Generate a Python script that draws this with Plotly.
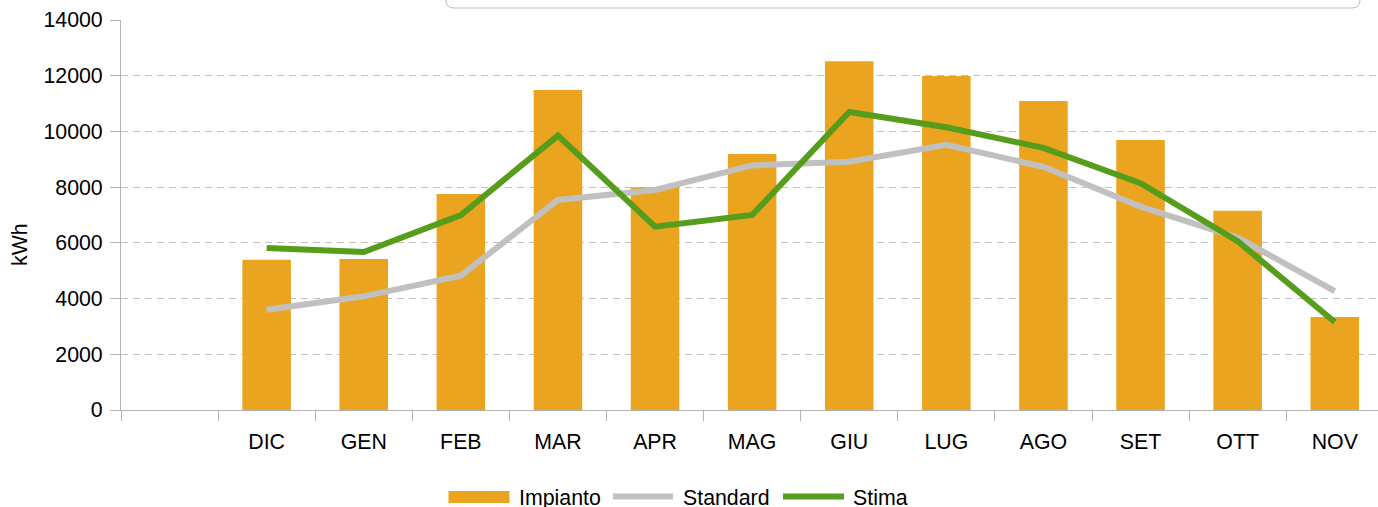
import plotly.graph_objects as go

categories = [" ", "DIC", "GEN", "FEB", "MAR", "APR", "MAG", "GIU", "LUG", "AGO", "SET", "OTT", "NOV"]
months = categories[1:]
impianto = [None, 5390, 5420, 7750, 11490, 8000, 9190, 12520, 11990, 11090, 9690, 7150, 3340]
standard = [3600, 4080, 4820, 7540, 7900, 8780, 8910, 9520, 8730, 7300, 6190, 4270]
stima = [5815, 5670, 7000, 9850, 6580, 7000, 10700, 10150, 9410, 8140, 6060, 3160]
y_ticks = [0, 2000, 4000, 6000, 8000, 10000, 12000, 14000]
y_tick_text = [str(v) for v in y_ticks]
series_names = ["Impianto", "Standard", "Stima"]
series_colors = ["#EBA41F", "#C0C0C0", "#579D1C"]

FONT = "Liberation Sans, Arial, sans-serif"
FS = 21.33
GRID = "#C0C0C0"
AXIS = "#B3B3B3"

fig = go.Figure()
fig.add_trace(go.Bar(x=categories, y=impianto, name=series_names[0], marker_color=series_colors[0],
                     marker_line_width=0, width=0.5, showlegend=False))
fig.add_trace(go.Scatter(x=months, y=standard, name=series_names[1], mode="lines",
                         line=dict(color=series_colors[1], width=6), showlegend=False))
fig.add_trace(go.Scatter(x=months, y=stima, name=series_names[2], mode="lines",
                         line=dict(color=series_colors[2], width=6), showlegend=False))

W, H = 1378, 507
L, R, T, B = 121, 0, 20, 97
pw, ph = W - L - R, H - T - B

def px_x(p):
    return (p - L) / pw

def px_y(p):
    return (H - B - p) / ph

# rounded frame partly visible at top (cut off by the image edge)
x0, x1 = px_x(446), px_x(1360)
yb, ytop = px_y(8), px_y(-20)
rx, ry = 8 / pw, 8 / ph
path = (f"M{x0},{ytop} L{x0},{yb + ry} Q{x0},{yb} {x0 + rx},{yb} "
        f"L{x1 - rx},{yb} Q{x1},{yb} {x1},{yb + ry} L{x1},{ytop}")
fig.add_shape(type="path", path=path, xref="paper", yref="paper",
              line=dict(color="#BBBBBB", width=1), layer="above")

# custom legend (wide swatches as in the reference)
ly = px_y(496.5)
fig.add_shape(type="rect", xref="paper", yref="paper",
              x0=px_x(448.5), x1=px_x(509.5), y0=px_y(503), y1=px_y(491),
              fillcolor=series_colors[0], line=dict(width=0))
fig.add_shape(type="line", xref="paper", yref="paper",
              x0=px_x(613), x1=px_x(673), y0=ly, y1=ly,
              line=dict(color=series_colors[1], width=6))
fig.add_shape(type="line", xref="paper", yref="paper",
              x0=px_x(783), x1=px_x(844), y0=ly, y1=ly,
              line=dict(color=series_colors[2], width=6))
for name, xp in zip(series_names, [516.5, 680.5, 851]):
    fig.add_annotation(text=name, xref="paper", yref="paper", x=px_x(xp), y=px_y(497.5),
                       xanchor="left", yanchor="middle", showarrow=False,
                       font=dict(family=FONT, size=FS, color="#000000"))

# y axis title
fig.add_annotation(text="kWh", xref="paper", yref="paper", x=px_x(20), y=px_y(245),
                   xanchor="center", yanchor="middle", textangle=-90, showarrow=False,
                   font=dict(family=FONT, size=FS, color="#000000"))

fig.update_layout(
    width=W, height=H,
    margin=dict(l=L, r=R, t=T, b=B, autoexpand=False),
    plot_bgcolor="white", paper_bgcolor="white",
    font=dict(family=FONT, size=FS, color="#000000"),
    showlegend=False,
    xaxis=dict(
        type="category", categoryorder="array", categoryarray=categories,
        range=[-0.5, -0.5 + pw / 97.1], automargin=False,
        tickson="boundaries", ticks="outside", ticklen=10, tickcolor=AXIS, tickwidth=1,
        showline=True, linecolor=AXIS, linewidth=1, showgrid=False,
        ticklabelstandoff=12, tickfont=dict(family=FONT, size=FS),
    ),
    yaxis=dict(
        range=[0, 14000], tickvals=y_ticks, ticktext=y_tick_text, automargin=False,
        ticks="outside", ticklen=10, tickcolor=AXIS,
        showline=True, linecolor=AXIS, linewidth=1,
        showgrid=True, gridcolor=GRID, griddash="7px,5px", gridwidth=1, zeroline=False,
        ticklabelstandoff=3, tickfont=dict(family=FONT, size=FS),
    ),
)

fig.write_html("out.html", config={"displayModeBar": False},
               post_script="document.body.style.margin='0px';")
